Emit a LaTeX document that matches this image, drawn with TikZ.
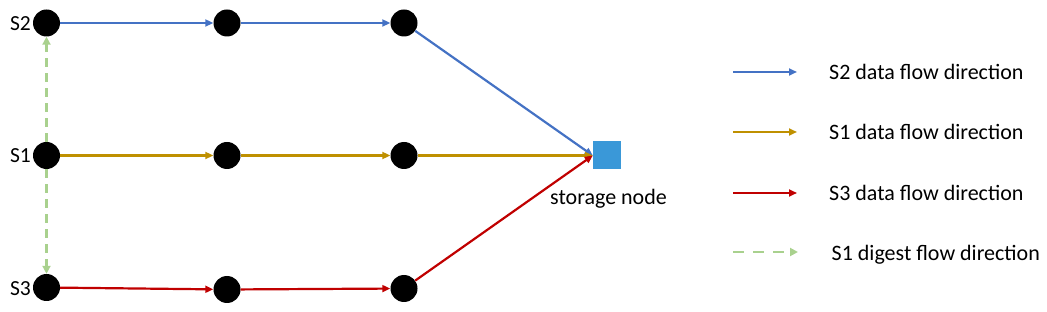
\documentclass[tikz,border=0pt]{standalone}
\usepackage{fontspec}
\setmainfont{Carlito}
\usetikzlibrary{arrows.meta}
\definecolor{cblue}{HTML}{4472C4}
\definecolor{cgold}{HTML}{BF9000}
\definecolor{cred}{HTML}{C00000}
\definecolor{cgreen}{HTML}{A9D18E}
\definecolor{cstore}{HTML}{3A98D8}
\tikzset{
  dot/.style={circle,fill=black,minimum size=27pt,inner sep=0pt},
  store/.style={rectangle,fill=cstore,minimum size=28pt,inner sep=0pt},
  lbl/.style={font=\fontsize{21.5}{25}\selectfont,inner sep=0pt},
  blbl/.style={font=\fontsize{22}{26}\selectfont,inner sep=0pt},
  flow/.style={line width=2.2pt,-{Triangle[length=8pt,width=7pt]}},
  digest/.style={line width=2.4pt,cgreen,dash pattern=on 9pt off 6pt,-{Triangle[length=8pt,width=8pt]}},
  ldigest/.style={line width=2.4pt,cgreen,dash pattern=on 11pt off 9pt,-{Triangle[length=8pt,width=8pt]}}
}
\begin{document}
\begin{tikzpicture}[x=1pt,y=-1pt]
\useasboundingbox (0,0) rectangle (1047,312);
% nodes
\node[dot] (s2) at (46.5,23) {};
\node[dot] (a2) at (227,23) {};
\node[dot] (b2) at (404,23) {};
\node[dot] (s1) at (46.5,155.5) {};
\node[dot] (a1) at (227,155.5) {};
\node[dot] (b1) at (404,155.5) {};
\node[dot] (s3) at (46.5,287.5) {};
\node[dot] (a3) at (227,289.5) {};
\node[dot] (b3) at (404,288.5) {};
\node[store] (st) at (607,155.5) {};
% labels
\node[lbl,anchor=base east] (ls2) at (31,31) {S2};
\node[lbl,anchor=base east] (ls1) at (31,163) {S1};
\node[lbl,anchor=base east] (ls3) at (31,296) {S3};
\node[blbl,anchor=base] (lst) at (608.5,205) {storage node};
% flows
\draw[flow,cblue] (s2) -- (a2);
\draw[flow,cblue] (a2) -- (b2);
\draw[flow,cblue] (b2) -- (st.west);
\draw[flow,cgold] (s1) -- (a1);
\draw[flow,cgold] (a1) -- (b1);
\draw[flow,cgold] (b1) -- (st.west);
\draw[flow,cred] (s3) -- (a3);
\draw[flow,cred] (a3) -- (b3);
\draw[flow,cred] (b3) -- (st.west);
\draw[digest] (s1) -- (s2);
\draw[digest] (s1) -- (s3);
% legend
\coordinate (k1s) at (733,72); \coordinate (k1e) at (797,72);
\coordinate (k2s) at (733,132); \coordinate (k2e) at (797,132);
\coordinate (k3s) at (733,193); \coordinate (k3e) at (797,193);
\coordinate (k4s) at (733,252); \coordinate (k4e) at (798,252);
\draw[flow,cblue] (k1s) -- (k1e);
\draw[flow,cgold] (k2s) -- (k2e);
\draw[flow,cred] (k3s) -- (k3e);
\draw[ldigest] (k4s) -- (k4e);
\node[blbl,anchor=base west] (t1) at (829,80) {S2 data flow direction};
\node[blbl,anchor=base west] (t2) at (829,140) {S1 data flow direction};
\node[blbl,anchor=base west] (t3) at (829,201) {S3 data flow direction};
\node[blbl,anchor=base west] (t4) at (831.5,261) {S1 digest flow direction};
\end{tikzpicture}
\end{document}
